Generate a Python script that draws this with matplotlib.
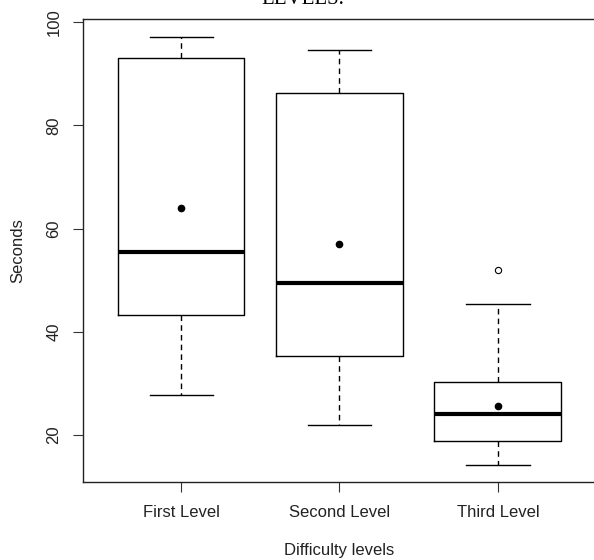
import matplotlib
matplotlib.use('Agg')
import matplotlib.pyplot as plt

plt.rcParams['font.family'] = ['Liberation Sans', 'DejaVu Sans']

levels = ['First Level', 'Second Level', 'Third Level']
whislo = [27.8, 21.9, 14.2]
q1 = [43.2, 35.4, 18.8]
med = [55.5, 49.5, 24.0]
q3 = [93.0, 86.3, 30.3]
whishi = [97.2, 94.6, 45.4]
means = [64.0, 57.0, 25.6]
fliers = [[], [], [52.0]]

stats = []
for i in range(len(levels)):
    stats.append(dict(label=levels[i], whislo=whislo[i], q1=q1[i], med=med[i],
                      q3=q3[i], whishi=whishi[i], mean=means[i], fliers=fliers[i]))

fig = plt.figure(figsize=(5.94, 5.6), dpi=100)
ax = fig.add_axes([83/594, 1 - 482/560, 513/594, 463/560])

ax.bxp(stats, positions=[1, 2, 3], widths=0.8, showmeans=True,
       boxprops=dict(color='black', lw=1),
       medianprops=dict(color='black', lw=3, solid_capstyle='butt'),
       whiskerprops=dict(color='black', lw=1, linestyle=(0, (4, 3))),
       capprops=dict(color='black', lw=1),
       capwidths=0.4,
       meanprops=dict(marker='o', markerfacecolor='black', markeredgecolor='black', markersize=4.5),
       flierprops=dict(marker='o', markerfacecolor='none', markeredgecolor='black', markersize=4.5, markeredgewidth=0.8))

ax.set_xlim(0.38, 3.62)
ax.set_ylim(10.9, 100.6)
ax.set_yticks([20, 40, 60, 80, 100])
ax.set_yticklabels(['20', '40', '60', '80', '100'], rotation=90, va='center')
ax.tick_params(axis='both', length=7.5, width=0.8, labelsize=12, color='#333333', labelcolor='#222222')
ax.tick_params(axis='y', pad=8)
ax.tick_params(axis='x', pad=9)
for s in ax.spines.values():
    s.set_linewidth(1)
    s.set_color('#222222')

ax.set_xlabel('Difficulty levels', fontsize=12, color='#222222', va='center')
ax.xaxis.set_label_coords(339/513 - 83/513, (482 - 550) / 463)
ax.set_ylabel('Seconds', fontsize=12, color='#222222', va='center')
ax.yaxis.set_label_coords((18 - 83) / 513, 0.5)

# title is cut off at the top edge in the reference
fig.text(303/594, 1 - 4/560, 'LEVELS.', family='Liberation Serif', fontsize=15,
         ha='center', va='baseline')

fig.savefig('out.png', dpi=100)
